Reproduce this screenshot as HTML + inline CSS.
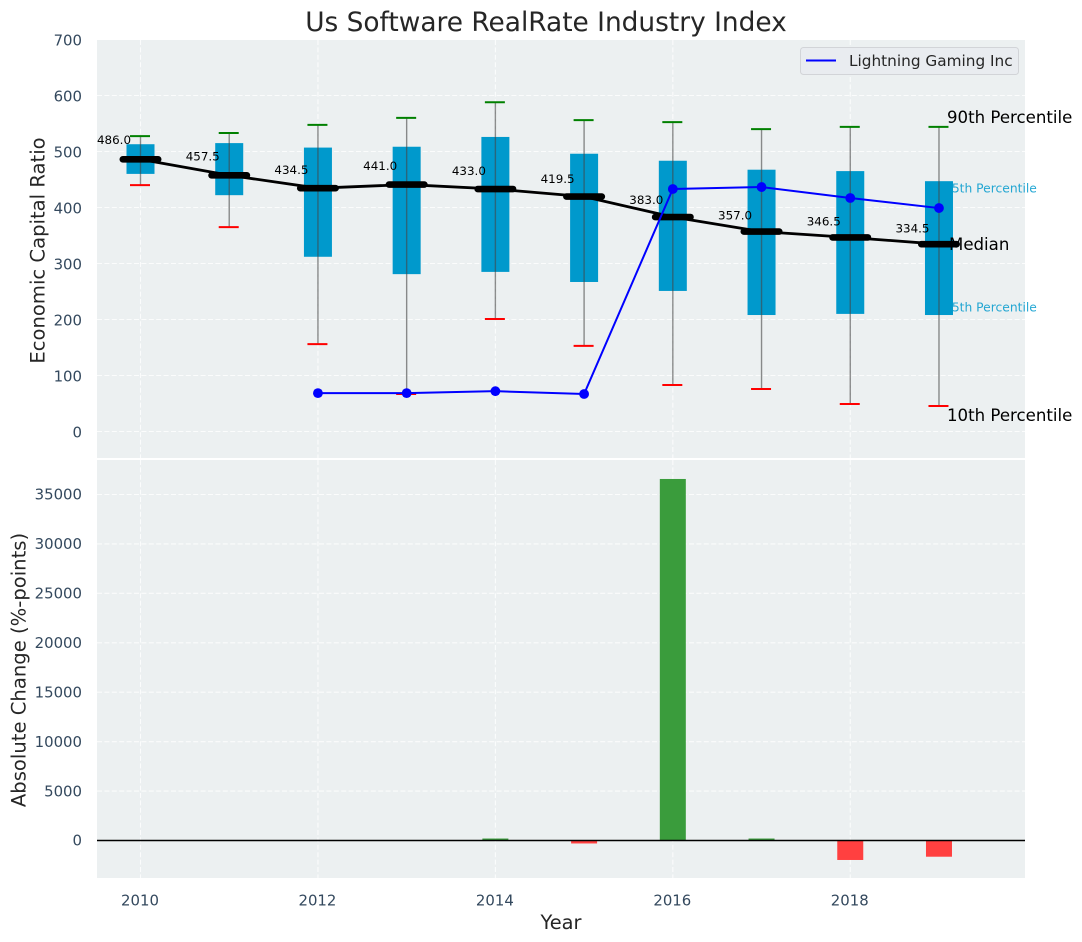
<!DOCTYPE html>
<html lang="en">
<head>
<meta charset="utf-8">
<title>Us Software RealRate Industry Index</title>
<style>
html,body{margin:0;padding:0;background:#fff;width:1082px;height:942px;overflow:hidden}
svg{display:block;font-family:"DejaVu Sans","Liberation Sans",sans-serif}
</style>
</head>
<body>
<svg id="chart" xmlns="http://www.w3.org/2000/svg" width="1082" height="942" viewBox="0 0 1082 942">
  <text x="546" y="31" text-anchor="middle" font-size="26.4" fill="#262626">Us Software RealRate Industry Index</text>
  <rect x="97" y="40" width="928" height="418" fill="#ecf0f1"/>
  <rect x="97" y="460" width="928" height="418" fill="#ecf0f1"/>
  <g id="grid"></g>
  <g id="annotations">
    <text x="947" y="123" font-size="16.6" fill="#000">90th Percentile</text>
    <text x="944" y="192.5" font-size="12.3" fill="#0099cc" fill-opacity="0.85">75th Percentile</text>
    <text x="944" y="311.5" font-size="12.3" fill="#0099cc" fill-opacity="0.85">25th Percentile</text>
    <text x="947" y="421" font-size="16.6" fill="#000">10th Percentile</text>
  </g>
  <g id="marks"></g>
  <text x="949" y="250" font-size="16.6" fill="#000">Median</text>
  <g id="ticks" font-size="14.9" fill="#34495e"></g>
  <text transform="translate(44.5,250.5) rotate(-90)" text-anchor="middle" font-size="19.6" fill="#262626">Economic Capital Ratio</text>
  <text transform="translate(25.5,670) rotate(-90)" text-anchor="middle" font-size="19.6" fill="#262626">Absolute Change (%-points)</text>
  <text x="561" y="929" text-anchor="middle" font-size="19.4" fill="#262626">Year</text>
  <g>
    <rect x="800.5" y="47.5" width="218" height="27" rx="3" fill="#e9ecf0" stroke="#d2d4d8" stroke-width="1"/>
    <line x1="806" y1="60.5" x2="836" y2="60.5" stroke="#0000ff" stroke-width="2"/>
    <text x="849" y="66" font-size="15.3" fill="#262626">Lightning Gaming Inc</text>
  </g>
</svg>
<script>
const years = [2010, 2011, 2012, 2013, 2014, 2015, 2016, 2017, 2018, 2019];
const p90 = [527.5, 533, 547.5, 560, 588, 556, 552.5, 540, 544, 544];
const p75 = [513, 515, 507, 508.5, 526, 496, 483.5, 467.5, 465, 447];
const medians = [486, 457.5, 434.5, 441, 433, 419.5, 383, 357, 346.5, 334.5];
const p25 = [460, 422, 312, 281, 285, 267, 251, 208, 210, 208];
const p10 = [440, 365, 156, 67, 201, 153, 83, 76, 49, 45.5];
const companyYears = [2012, 2013, 2014, 2015, 2016, 2017, 2018, 2019];
const companyValues = [68.5, 68.5, 72, 67, 433, 436.5, 417, 399];
const changeYears = [2014, 2015, 2016, 2017, 2018, 2019];
const changeValues = [200, -300, 36570, 200, -1970, -1640];
const xTicks = [2010, 2012, 2014, 2016, 2018];
const topYTicks = [0, 100, 200, 300, 400, 500, 600, 700];
const bottomYTicks = [0, 5000, 10000, 15000, 20000, 25000, 30000, 35000];

const NS = 'http://www.w3.org/2000/svg';
const x = function (v) { return 140.5 + (v - 2010) * 88.72; };
const yTop = function (v) { return 431.5 - v * 0.56; };
const yBottom = function (v) { return 840.5 - v * 0.009886; };

function mk(parent, tag, attrs) {
  const el = document.createElementNS(NS, tag);
  for (const k in attrs) el.setAttribute(k, attrs[k]);
  parent.appendChild(el);
  return el;
}

const grid = document.getElementById('grid');
const marks = document.getElementById('marks');
const ticks = document.getElementById('ticks');
const gridStyle = { stroke: '#fff', 'stroke-width': 1.1, 'stroke-dasharray': '5 2.4', 'stroke-opacity': 0.8, fill: 'none' };

topYTicks.forEach(function (t) {
  const g = mk(grid, 'line', Object.assign({ x1: 97, x2: 1025, y1: yTop(t), y2: yTop(t) }, gridStyle));
  
  
  const l = mk(ticks, 'text', { x: 82, y: yTop(t) + 5.8, 'text-anchor': 'end' });
  l.textContent = String(t);
  
  
});
bottomYTicks.forEach(function (t) {
  const g = mk(grid, 'line', Object.assign({ x1: 97, x2: 1025, y1: yBottom(t), y2: yBottom(t) }, gridStyle));
  
  
  const l = mk(ticks, 'text', { x: 82, y: yBottom(t) + 5.2, 'text-anchor': 'end' });
  l.textContent = String(t);
  
  
});
xTicks.forEach(function (t) {
  const g1 = mk(grid, 'line', Object.assign({ x1: x(t), x2: x(t), y1: 40, y2: 458 }, gridStyle));
  
  
  const g2 = mk(grid, 'line', Object.assign({ x1: x(t), x2: x(t), y1: 460, y2: 878 }, gridStyle));
  
  
  const l = mk(ticks, 'text', { x: x(t) - 0.5, y: 905.5, 'text-anchor': 'middle' });
  l.textContent = String(t);
  
  
});

/* percentile boxes, whiskers and caps */
years.forEach(function (yr, i) {
  const cx = x(yr);
  const box = mk(marks, 'rect', { x: cx - 14, y: yTop(p75[i]), width: 28, height: yTop(p25[i]) - yTop(p75[i]), fill: '#0099cc' });
  
  
  const whisker = mk(marks, 'line', { x1: cx, x2: cx, y1: yTop(p90[i]), y2: yTop(p10[i]), stroke: '#444', 'stroke-opacity': 0.6, 'stroke-width': 1.4 });
  
  
  const capHi = mk(marks, 'line', { x1: cx - 10.5, x2: cx + 9.5, y1: yTop(p90[i]), y2: yTop(p90[i]), stroke: '#008000', 'stroke-width': 2 });
  
  
  const capLo = mk(marks, 'line', { x1: cx - 10.5, x2: cx + 9.5, y1: yTop(p10[i]), y2: yTop(p10[i]), stroke: '#ff0000', 'stroke-width': 2 });
  
  
});

/* median trend line */
const medianLine = mk(marks, 'polyline', {
  points: years.map(function (yr, i) { return x(yr) + ',' + yTop(medians[i]); }).join(' '),
  fill: 'none', stroke: '#000', 'stroke-width': 2.8
});



years.forEach(function (yr, i) {
  const cx = x(yr);
  const bar = mk(marks, 'line', { x1: cx - 17.7, x2: cx + 17.7, y1: yTop(medians[i]), y2: yTop(medians[i]), stroke: '#000', 'stroke-width': 6.6, 'stroke-linecap': 'round' });
  
  
  const lab = mk(marks, 'text', { x: cx - 26.5, y: yTop(medians[i] * 1.047 + 13) + 4.5, 'text-anchor': 'middle', 'font-size': 11.9, fill: '#000' });
  lab.textContent = medians[i].toFixed(1);
  
  
});

/* company series */
const companyLine = mk(marks, 'polyline', {
  points: companyYears.map(function (yr, i) { return x(yr) + ',' + yTop(companyValues[i]); }).join(' '),
  fill: 'none', stroke: '#0000ff', 'stroke-width': 2
});


companyYears.forEach(function (yr, i) {
  const pt = mk(marks, 'circle', { cx: x(yr), cy: yTop(companyValues[i]), r: 4.9, fill: '#0000ff' });
  
  
});

/* absolute change bars */
changeYears.forEach(function (yr, i) {
  const v = changeValues[i];
  const top = Math.min(yBottom(v), yBottom(0));
  const h = Math.abs(yBottom(v) - yBottom(0));
  const bar = mk(marks, 'rect', { x: x(yr) - 13, y: top, width: 26, height: h, fill: v >= 0 ? '#3a9c3c' : '#ff4040' });
  
  
});
const zero = mk(marks, 'line', { x1: 97, x2: 1025, y1: yBottom(0), y2: yBottom(0), stroke: '#000', 'stroke-width': 1.4 });


</script>
</body>
</html>
